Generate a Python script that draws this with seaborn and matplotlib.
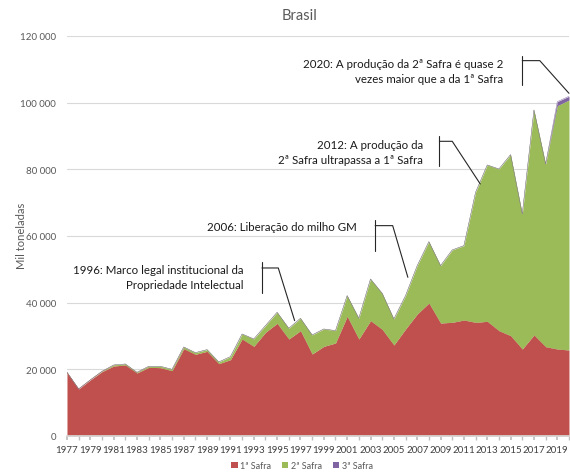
import numpy as np
import pandas as pd
import matplotlib
matplotlib.use('Agg')
import matplotlib.pyplot as plt
from matplotlib.ticker import FuncFormatter, MultipleLocator
from matplotlib.patches import Patch
import seaborn as sns

# data (mil toneladas)
anos = list(range(1977, 2021))
safra1 = [19100, 14100, 16800, 19300, 21000, 21300, 18900, 20600, 20500, 19600,
          26200, 24500, 25400, 21700, 22900, 29100, 26900, 31100, 33800, 29100,
          31600, 24600, 26900, 27900, 35900, 29100, 34600, 32000, 27300, 32100,
          36600, 39900, 33900, 34100, 34800, 34100, 34400, 31600, 30100, 26100,
          30300, 26800, 26100, 25800]
safra2 = [0, 0, 0, 100, 300, 300, 200, 300, 400, 400,
          500, 500, 500, 500, 900, 1500, 2200, 2000, 3300, 3200,
          3700, 5700, 5200, 3700, 6200, 6200, 12500, 10800, 7800, 10000,
          14500, 18400, 17200, 21700, 22300, 39000, 46900, 48500, 54300, 40500,
          67500, 54800, 73000, 75000]
safra3 = [0] * 42 + [1200, 1100]
series_names = ['1ª Safra', '2ª Safra', '3ª Safra']
series_colors = ['#C0504D', '#9BBB59', '#8064A2']
xtick_years = list(range(1977, 2020, 2))

# annotations: text, text anchor, bracket (x, top, bottom), elbow (x, y), target
annotations = [
    ('1996: Marco legal institucional da\nPropriedade Intelectual', (1992.1, 47700),
     (1993.7, 52200, 42900), (1995.1, 50400), (1996.5, 34600)),
    ('2006: Liberação do milho GM', (2001.8, 62900),
     (2003.4, 64800, 55600), (2004.9, 63100), (2006.2, 47600)),
    ('2012: A produção da\n2ª Safra ultrapassa a 1ª Safra', (2007.5, 85300),
     (2008.9, 89900, 80900), (2010.0, 88400), (2012.4, 75600)),
    ('2020: A produção da 2ª Safra é quase 2\nvezes maior que a da 1ª Safra', (2014.4, 109500),
     (2016.0, 113900, 105300), (2017.5, 112600), (2020.0, 102800)),
]

df = pd.DataFrame({'ano': anos, series_names[0]: safra1,
                   series_names[1]: safra2, series_names[2]: safra3})

sns.set_theme(style='white')
plt.rcParams['font.family'] = ['Lato', 'DejaVu Sans']

fig = plt.figure(figsize=(5.7, 4.77), dpi=100)
ax = fig.add_axes([0.1175, 0.0839, 0.8807, 0.8386])

cum = df[series_names].cumsum(axis=1)
lower = np.zeros(len(df))
for name, color in zip(series_names, series_colors):
    upper = cum[name].values
    ax.fill_between(df['ano'], lower, upper, color=color, lw=0, zorder=2)
    sns.lineplot(x=df['ano'], y=upper, ax=ax, color=color, lw=0.3, zorder=2)
    lower = upper

ax.set_xlim(1977, 2020)
ax.set_ylim(0, 120000)
ax.yaxis.set_major_locator(MultipleLocator(20000))
ax.yaxis.set_major_formatter(FuncFormatter(lambda v, p: f'{int(v):,}'.replace(',', ' ')))
ax.grid(axis='y', color='#D9D9D9', lw=0.8, zorder=0)
ax.set_axisbelow(True)
ax.set_xticks(xtick_years)
ax.set_xticklabels([str(y) for y in xtick_years])
ax.set_xticks(anos, minor=True)
ax.tick_params(axis='x', which='major', length=3, color='#BFBFBF', labelsize=7,
               labelcolor='#404040', pad=3.5, direction='out', bottom=True)
ax.tick_params(axis='x', which='minor', length=3, color='#BFBFBF', direction='out', bottom=True)
ax.tick_params(axis='y', length=0, labelsize=7, labelcolor='#595959', pad=8)
for s in ['top', 'right', 'left']:
    ax.spines[s].set_visible(False)
ax.spines['bottom'].set_color('#D9D9D9')
ax.set_xlabel('')
ax.set_ylabel('')

for text, (tx, ty), (bx, btop, bbot), (ex, ey), (px, py) in annotations:
    ax.text(tx, ty, text, ha='right', va='center', fontsize=8.3, color='#1a1a1a',
            linespacing=1.45, zorder=5)
    ax.plot([bx, bx], [btop, bbot], color='#262626', lw=0.8, clip_on=False, zorder=5)
    ax.plot([bx, ex, px], [ey, ey, py], color='#262626', lw=0.8, clip_on=False, zorder=5)

fig.text(0.525, 0.966, 'Brasil', ha='center', va='center', fontsize=10.5, color='#595959')
fig.text(0.038, 1 - 236 / 477, 'Mil toneladas', rotation=90, ha='center', va='center',
         fontsize=8, color='#595959')

handles = [Patch(facecolor=c, edgecolor='none') for c in series_colors]
fig.legend(handles, series_names, loc='lower center', bbox_to_anchor=(0.53, -0.005), ncol=3,
           frameon=False, fontsize=6.5, labelcolor='#595959', handlelength=0.7,
           handleheight=0.7, handletextpad=0.3, columnspacing=1.2)

fig.savefig('out.png', dpi=100)
